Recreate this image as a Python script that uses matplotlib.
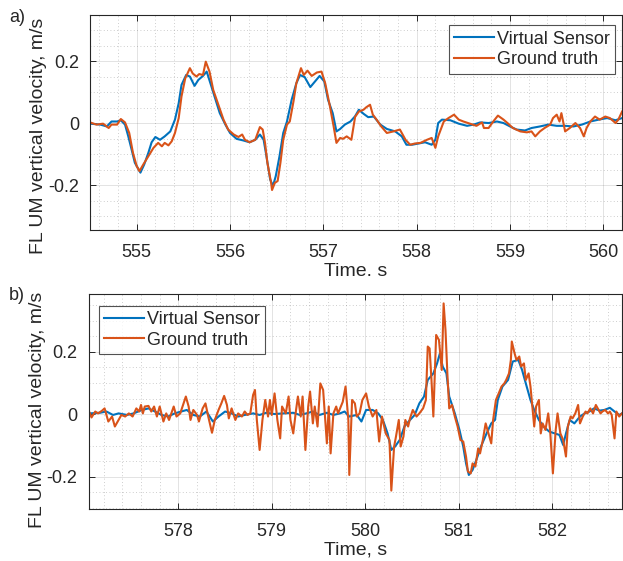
import matplotlib

matplotlib.use("Agg")

import matplotlib.pyplot as plt
import numpy as np
from matplotlib.ticker import FuncFormatter, MultipleLocator


# (time s, vertical velocity m/s)
TOP_VIRTUAL_SENSOR = [
    (554.50, -0.002), (554.61, -0.005), (554.68, -0.011), (554.73, 0.005),
    (554.79, 0.005), (554.83, 0.009), (554.875, -0.005), (554.91, -0.043),
    (554.95, -0.091), (554.98, -0.128), (555.04, -0.160), (555.08, -0.134),
    (555.125, -0.096), (555.16, -0.062), (555.20, -0.045), (555.25, -0.054),
    (555.30, -0.043), (555.36, -0.027), (555.41, 0.011), (555.45, 0.064),
    (555.48, 0.123), (555.53, 0.155), (555.57, 0.150), (555.62, 0.120),
    (555.66, 0.139), (555.71, 0.152), (555.75, 0.166), (555.79, 0.128),
    (555.84, 0.080), (555.89, 0.032), (555.95, -0.005), (556.00, -0.032),
    (556.07, -0.051), (556.14, -0.056), (556.21, -0.062), (556.27, -0.054),
    (556.32, -0.037), (556.36, -0.054), (556.39, -0.107), (556.43, -0.182),
    (556.46, -0.203), (556.49, -0.171), (556.53, -0.107), (556.57, -0.032),
    (556.61, 0.005), (556.66, 0.075), (556.71, 0.128), (556.75, 0.155),
    (556.80, 0.148), (556.86, 0.116), (556.91, 0.134), (556.96, 0.152),
    (557.01, 0.134), (557.05, 0.075), (557.10, 0.032), (557.14, -0.027),
    (557.18, -0.019), (557.23, -0.005), (557.29, 0.005), (557.34, 0.022),
    (557.38, 0.043), (557.43, 0.030), (557.48, 0.019), (557.54, 0.021),
    (557.61, -0.005), (557.68, -0.019), (557.77, -0.027), (557.84, -0.043),
    (557.89, -0.070), (557.95, -0.070), (558.02, -0.066), (558.09, -0.062),
    (558.16, -0.070), (558.20, -0.054), (558.23, 0.000), (558.27, 0.011),
    (558.36, 0.009), (558.45, -0.002), (558.54, -0.009), (558.61, -0.005),
    (558.68, 0.002), (558.77, 0.000), (558.86, 0.005), (558.93, 0.000),
    (559.00, -0.011), (559.07, -0.021), (559.16, -0.024), (559.23, -0.016),
    (559.32, -0.011), (559.41, -0.005), (559.50, -0.009), (559.59, -0.009),
    (559.68, -0.011), (559.77, -0.005), (559.86, 0.005), (559.95, 0.011),
    (560.04, 0.016), (560.13, 0.009), (560.20, 0.016),
]

TOP_GROUND_TRUTH = [
    (554.50, 0.002), (554.57, -0.005), (554.64, -0.002), (554.70, -0.016),
    (554.73, -0.005), (554.79, -0.005), (554.83, 0.013), (554.875, 0.002),
    (554.92, -0.032), (554.96, -0.096), (555.00, -0.139), (555.03, -0.155),
    (555.07, -0.134), (555.125, -0.107), (555.18, -0.080), (555.23, -0.064),
    (555.27, -0.075), (555.30, -0.064), (555.34, -0.072), (555.375, -0.059),
    (555.41, -0.032), (555.45, 0.016), (555.48, 0.086), (555.52, 0.144),
    (555.57, 0.177), (555.60, 0.160), (555.64, 0.150), (555.67, 0.158),
    (555.71, 0.155), (555.74, 0.198), (555.78, 0.166), (555.82, 0.107),
    (555.875, 0.059), (555.93, 0.011), (555.98, -0.021), (556.04, -0.037),
    (556.09, -0.045), (556.13, -0.037), (556.16, -0.054), (556.21, -0.062),
    (556.27, -0.054), (556.32, -0.013), (556.35, -0.021), (556.375, -0.064),
    (556.40, -0.128), (556.44, -0.193), (556.45, -0.216), (556.48, -0.193),
    (556.51, -0.187), (556.54, -0.128), (556.57, -0.054), (556.61, -0.005),
    (556.64, 0.005), (556.68, 0.070), (556.71, 0.128), (556.76, 0.177),
    (556.79, 0.155), (556.83, 0.169), (556.875, 0.152), (556.93, 0.163),
    (556.98, 0.166), (557.02, 0.128), (557.07, 0.054), (557.11, -0.011),
    (557.14, -0.064), (557.18, -0.048), (557.21, -0.051), (557.25, -0.043),
    (557.30, -0.054), (557.34, 0.020), (557.38, 0.037), (557.43, 0.043),
    (557.46, 0.051), (557.50, 0.059), (557.53, 0.027), (557.57, 0.011),
    (557.62, -0.011), (557.68, -0.032), (557.75, -0.027), (557.82, -0.021),
    (557.88, -0.054), (557.93, -0.070), (557.98, -0.066), (558.04, -0.064),
    (558.11, -0.054), (558.16, -0.048), (558.20, -0.080), (558.23, -0.043),
    (558.29, 0.005), (558.34, 0.016), (558.40, 0.027), (558.45, 0.011),
    (558.50, 0.005), (558.57, -0.002), (558.64, -0.009), (558.70, 0.002),
    (558.72, -0.016), (558.77, -0.016), (558.82, 0.005), (558.87, 0.024),
    (558.93, 0.011), (558.98, -0.002), (559.03, -0.016), (559.11, -0.027),
    (559.18, -0.030), (559.23, -0.027), (559.27, -0.043), (559.32, -0.027),
    (559.37, -0.016), (559.43, -0.005), (559.46, 0.016), (559.50, 0.027),
    (559.53, 0.005), (559.55, 0.032), (559.59, -0.027), (559.64, -0.016),
    (559.70, 0.000), (559.75, -0.016), (559.79, -0.043), (559.82, -0.016),
    (559.86, 0.005), (559.91, 0.021), (559.96, 0.011), (560.02, 0.021),
    (560.07, 0.016), (560.13, 0.000), (560.16, 0.011), (560.20, 0.037),
]

BOTTOM_VIRTUAL_SENSOR = [
    (577.05, 0.003), (577.16, 0.005), (577.23, 0.009), (577.30, -0.002),
    (577.36, 0.003), (577.45, -0.002), (577.52, 0.003), (577.61, 0.014),
    (577.68, 0.019), (577.75, 0.009), (577.82, -0.002), (577.89, -0.007),
    (577.96, 0.003), (578.03, 0.009), (578.09, 0.014), (578.16, -0.002),
    (578.23, -0.007), (578.30, 0.009), (578.37, -0.023), (578.43, -0.007),
    (578.50, 0.009), (578.57, 0.003), (578.64, -0.007), (578.71, -0.002),
    (578.80, 0.003), (578.87, -0.002), (578.94, 0.005), (579.03, 0.001),
    (579.12, 0.003), (579.23, 0.005), (579.30, -0.002), (579.37, 0.003),
    (579.44, 0.009), (579.51, -0.002), (579.59, 0.005), (579.66, -0.002),
    (579.73, 0.003), (579.78, 0.009), (579.83, -0.007), (579.91, -0.002),
    (579.96, -0.023), (580.01, 0.014), (580.08, 0.014), (580.14, 0.003),
    (580.19, -0.018), (580.24, -0.061), (580.28, -0.114), (580.32, -0.103),
    (580.37, -0.082), (580.42, -0.039), (580.48, -0.018), (580.53, -0.002),
    (580.58, 0.035), (580.63, 0.057), (580.67, 0.110), (580.73, 0.131),
    (580.77, 0.163), (580.80, 0.195), (580.83, 0.153), (580.87, 0.131),
    (580.90, 0.057), (580.96, 0.003), (581.01, -0.050), (581.05, -0.103),
    (581.08, -0.157), (581.11, -0.194), (581.15, -0.178), (581.19, -0.146),
    (581.24, -0.103), (581.30, -0.061), (581.35, -0.029), (581.39, -0.018),
    (581.42, 0.046), (581.47, 0.089), (581.53, 0.110), (581.58, 0.169),
    (581.64, 0.174), (581.68, 0.142), (581.72, 0.099), (581.77, 0.046),
    (581.81, 0.014), (581.86, -0.018), (581.91, -0.039), (581.97, -0.055),
    (582.03, -0.061), (582.08, -0.066), (582.12, -0.098), (582.15, -0.061),
    (582.19, -0.018), (582.24, -0.029), (582.30, -0.007), (582.35, 0.003),
    (582.40, 0.009), (582.45, 0.019), (582.51, 0.012), (582.56, 0.014),
    (582.62, 0.021), (582.67, 0.009), (582.72, -0.002), (582.75, 0.003),
]

BOTTOM_GROUND_TRUTH = [
    (577.05, 0.005), (577.07, -0.010), (577.11, 0.009), (577.14, 0.003),
    (577.18, 0.011), (577.21, 0.019), (577.25, -0.023), (577.29, -0.007),
    (577.32, -0.039), (577.36, -0.018), (577.39, -0.002), (577.43, -0.007),
    (577.47, 0.003), (577.51, -0.007), (577.55, 0.019), (577.58, 0.009),
    (577.60, 0.030), (577.62, 0.003), (577.64, 0.025), (577.68, 0.027),
    (577.71, 0.009), (577.74, 0.025), (577.77, -0.007), (577.80, 0.025),
    (577.84, -0.023), (577.87, 0.003), (577.90, -0.018), (577.95, 0.025),
    (577.98, -0.007), (578.02, 0.003), (578.05, 0.030), (578.08, 0.057),
    (578.11, 0.025), (578.13, -0.018), (578.16, 0.014), (578.20, -0.002),
    (578.22, -0.023), (578.26, 0.019), (578.29, 0.035), (578.32, -0.007),
    (578.36, -0.059), (578.39, -0.018), (578.43, 0.014), (578.46, 0.035),
    (578.49, 0.059), (578.52, 0.030), (578.54, -0.013), (578.57, 0.019),
    (578.61, -0.018), (578.64, 0.003), (578.68, -0.007), (578.71, 0.009),
    (578.74, -0.002), (578.77, 0.003), (578.80, 0.062), (578.82, 0.078),
    (578.84, -0.018), (578.87, -0.114), (578.90, -0.018), (578.93, 0.046),
    (578.96, -0.007), (578.98, 0.046), (579.00, -0.002), (579.03, 0.067),
    (579.06, -0.018), (579.09, -0.077), (579.11, 0.025), (579.15, 0.003),
    (579.18, 0.057), (579.20, -0.018), (579.23, -0.061), (579.26, 0.014),
    (579.28, 0.057), (579.31, -0.007), (579.33, 0.057), (579.36, -0.114),
    (579.39, 0.025), (579.41, 0.073), (579.44, -0.029), (579.46, 0.025),
    (579.49, -0.039), (579.52, 0.099), (579.55, 0.078), (579.59, -0.093),
    (579.61, 0.025), (579.63, -0.125), (579.66, 0.003), (579.69, 0.025),
    (579.71, 0.003), (579.76, 0.040), (579.79, 0.089), (579.82, -0.018),
    (579.83, -0.194), (579.86, 0.046), (579.89, 0.035), (579.91, -0.007),
    (579.94, 0.003), (579.97, 0.046), (580.01, 0.067), (580.04, 0.025),
    (580.08, -0.007), (580.12, 0.014), (580.15, -0.087), (580.18, -0.007),
    (580.22, -0.061), (580.26, -0.082), (580.28, -0.244), (580.31, -0.103),
    (580.33, -0.071), (580.36, -0.018), (580.38, -0.103), (580.41, -0.071),
    (580.43, -0.018), (580.46, -0.039), (580.48, -0.013), (580.51, 0.014),
    (580.55, -0.007), (580.58, 0.003), (580.62, 0.019), (580.65, 0.046),
    (580.67, 0.217), (580.69, 0.211), (580.71, 0.110), (580.73, -0.007),
    (580.76, 0.254), (580.79, 0.238), (580.82, 0.142), (580.84, 0.355),
    (580.86, 0.270), (580.88, 0.131), (580.90, 0.019), (580.93, 0.030),
    (580.96, -0.007), (580.99, -0.039), (581.02, -0.082), (581.05, -0.087),
    (581.08, -0.135), (581.10, -0.183), (581.13, -0.189), (581.15, -0.157),
    (581.18, -0.167), (581.21, -0.109), (581.23, -0.125), (581.26, -0.082),
    (581.29, -0.029), (581.32, -0.061), (581.35, -0.093), (581.37, -0.018),
    (581.40, 0.046), (581.43, 0.067), (581.46, 0.089), (581.49, 0.099),
    (581.51, 0.110), (581.54, 0.131), (581.56, 0.174), (581.57, 0.233),
    (581.60, 0.195), (581.62, 0.174), (581.65, 0.185), (581.67, 0.153),
    (581.70, 0.163), (581.72, 0.110), (581.75, 0.131), (581.77, 0.089),
    (581.79, 0.025), (581.81, -0.039), (581.83, 0.025), (581.86, 0.046),
    (581.88, -0.061), (581.90, -0.029), (581.93, -0.050), (581.96, 0.003),
    (581.98, -0.050), (582.01, -0.189), (582.04, -0.050), (582.06, 0.003),
    (582.09, -0.061), (582.12, -0.082), (582.15, -0.135), (582.17, -0.039),
    (582.20, -0.007), (582.22, -0.013), (582.25, 0.003), (582.28, 0.030),
    (582.30, -0.029), (582.33, -0.007), (582.36, 0.009), (582.38, 0.003),
    (582.41, 0.019), (582.44, 0.003), (582.47, 0.030), (582.49, 0.019),
    (582.52, 0.003), (582.54, 0.009), (582.57, 0.014), (582.60, 0.003),
    (582.62, 0.009), (582.64, -0.002), (582.67, -0.077), (582.69, 0.009),
    (582.72, -0.007), (582.75, 0.003),
]

SERIES_LABELS = ["Virtual Sensor", "Ground truth"]
Y_LABEL = "FL UM vertical velocity, m/s"
X_LABELS = ["Time. s", "Time, s"]
PANEL_TAGS = ["a)", "b)"]
Y_TICKS = [-0.2, 0.0, 0.2]

BLUE = "#0072BD"
ORANGE = "#D95319"
INK = "#262626"

plt.rcParams["font.family"] = ["Liberation Sans", "DejaVu Sans"]
plt.rcParams["font.size"] = 13
plt.rcParams["axes.unicode_minus"] = False


def _style_axis(ax):
    """MATLAB-like box, grid and tick styling."""
    for spine in ax.spines.values():
        spine.set_color(INK)
        spine.set_linewidth(0.8)
    ax.tick_params(which="major", direction="in", length=4, width=0.7,
                   colors=INK, labelcolor=INK, top=True, right=True,
                   labelsize=13)
    ax.tick_params(axis="x", which="major", pad=10)
    ax.tick_params(axis="y", which="major", pad=8)
    ax.tick_params(which="minor", length=0, top=True, right=True)
    ax.xaxis.set_major_locator(MultipleLocator(1))
    ax.xaxis.set_minor_locator(MultipleLocator(0.2))
    ax.set_yticks(Y_TICKS)
    ax.yaxis.set_minor_locator(MultipleLocator(0.05))
    ax.yaxis.set_major_formatter(
        FuncFormatter(lambda v, _: "0" if abs(v) < 1e-9 else f"{v:g}"))
    ax.xaxis.set_major_formatter(FuncFormatter(lambda v, _: f"{v:.0f}"))
    ax.grid(which="major", color=INK, alpha=0.15, linewidth=0.6)
    ax.grid(which="minor", color=INK, alpha=0.3, linewidth=0.6,
            linestyle=(0, (1, 3)))
    ax.set_axisbelow(True)


fig = plt.figure(figsize=(6.23, 5.61), dpi=100)
ax_a = fig.add_axes([0.1445, 0.590, 0.854, 0.383])
ax_b = fig.add_axes([0.1424, 0.0932, 0.8560, 0.3827])

panels = [
    (ax_a, TOP_VIRTUAL_SENSOR, TOP_GROUND_TRUTH, (554.5, 560.2), (-0.345, 0.348),
     "upper right", (1 - 7 / 532, 1 - 10 / 215), 0.44),
    (ax_b, BOTTOM_VIRTUAL_SENSOR, BOTTOM_GROUND_TRUTH, (577.04, 582.75),
     (-0.302, 0.385), "upper left", (10.3 / 533, 1 - 11.7 / 215), 0.46),
]

for i, (ax, vs, gt, xlim, ylim, loc, anchor, label_y) in enumerate(panels):
    vs_t, vs_v = np.array(vs).T
    gt_t, gt_v = np.array(gt).T
    ax.plot(vs_t, vs_v, color=BLUE, linewidth=1.5, label=SERIES_LABELS[0])
    ax.plot(gt_t, gt_v, color=ORANGE, linewidth=1.5, label=SERIES_LABELS[1])
    ax.set_xlim(*xlim)
    ax.set_ylim(*ylim)
    _style_axis(ax)
    ax.set_xlabel(X_LABELS[i], fontsize=14, color=INK, labelpad=1.5)
    ax.set_ylabel(Y_LABEL, fontsize=14, color=INK)
    ax.yaxis.set_label_coords(-0.081, label_y)
    leg = ax.legend(loc=loc, bbox_to_anchor=anchor, borderaxespad=0.0,
                    fontsize=13, frameon=True, fancybox=False,
                    handlelength=2.2, handletextpad=0.15,
                    labelspacing=0.2, borderpad=0.3)
    leg.get_frame().set_edgecolor(INK)
    leg.get_frame().set_linewidth(0.8)
    for text in leg.get_texts():
        text.set_color(INK)

fig.text(9 / 623, 1 - 17.5 / 561, PANEL_TAGS[0], fontsize=13, color=INK,
         va="center")
fig.text(9 / 623, 1 - 296 / 561, PANEL_TAGS[1], fontsize=13, color=INK,
         va="center")

fig.savefig("out.png", dpi=100)
plt.close(fig)
